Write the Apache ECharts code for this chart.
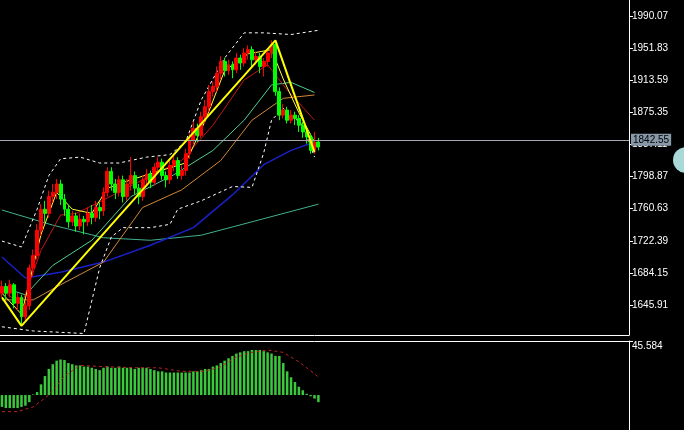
<!DOCTYPE html>
<html>
<head>
<meta charset="utf-8">
<script src="https://cdn.jsdelivr.net/npm/echarts@6/dist/echarts.min.js"></script>
<style>html,body{margin:0;background:#000;} #c{width:684px;height:430px;}</style>
</head>
<body>
<div id="c"></div>
<script>
// 价格面板：K 线 [open, close, low, high]
const candles = [
  [1660,1668,1655,1675],[1668,1660,1652,1672],[1660,1670,1655,1676],[1670,1648,1642,1672],
  [1648,1655,1640,1660],[1655,1632,1621,1658],[1632,1645,1628,1650],[1645,1690,1640,1694],
  [1690,1705,1680,1712],[1705,1735,1700,1742],[1735,1760,1728,1766],[1760,1755,1745,1770],
  [1755,1775,1750,1782],[1775,1780,1768,1790],[1780,1790,1772,1796],[1790,1772,1765,1795],
  [1772,1760,1752,1778],[1760,1745,1738,1765],[1745,1752,1740,1758],[1752,1740,1733,1756],
  [1740,1748,1735,1755],[1748,1745,1730,1752],[1745,1755,1740,1762],[1755,1750,1742,1765],
  [1750,1762,1745,1770],[1762,1758,1748,1768],[1758,1780,1752,1786],[1780,1805,1775,1810],
  [1805,1790,1782,1810],[1790,1780,1772,1796],[1780,1795,1775,1800],[1795,1775,1768,1800],
  [1775,1790,1770,1796],[1790,1800,1782,1822],[1800,1785,1778,1805],[1785,1775,1766,1790],
  [1775,1795,1770,1800],[1795,1802,1788,1808],[1802,1792,1785,1806],[1792,1810,1788,1815],
  [1810,1816,1802,1822],[1816,1800,1795,1820],[1800,1795,1786,1805],[1795,1812,1790,1818],
  [1812,1818,1805,1826],[1818,1800,1796,1822],[1800,1806,1795,1812],[1806,1826,1800,1832],
  [1826,1842,1820,1850],[1842,1856,1836,1864],[1856,1848,1840,1862],[1848,1870,1845,1876],
  [1870,1882,1862,1890],[1882,1900,1876,1908],[1900,1906,1894,1912],[1906,1922,1900,1930],
  [1922,1936,1915,1942],[1936,1925,1918,1940],[1925,1932,1920,1938],[1932,1926,1916,1936],
  [1926,1940,1922,1946],[1940,1934,1926,1944],[1934,1946,1930,1952],[1946,1950,1938,1955],
  [1950,1938,1930,1954],[1938,1942,1932,1948],[1942,1930,1922,1946],[1930,1936,1918,1940],
  [1936,1946,1930,1950],[1946,1956,1940,1961],[1956,1900,1895,1960],[1900,1872,1866,1905],
  [1872,1878,1868,1885],[1878,1866,1862,1882],[1866,1872,1862,1878],[1872,1868,1860,1876],
  [1868,1860,1852,1872],[1860,1852,1845,1864],[1852,1846,1838,1858],[1846,1830,1826,1850],
  [1830,1840,1826,1852],[1840,1834,1830,1845]
];
// 指标线关键点 [index, price]
const zigzag = [[0,1655],[5,1621],[70,1961],[80,1828]];
const maBlue = [[0,1703],[6,1678],[15,1685],[26,1697],[38,1717],[49,1738],[59,1777],[67,1813],[74,1830],[80,1840]];
const maTeal = [[0,1759],[13,1741],[26,1726],[38,1723],[51,1729],[64,1745],[81,1766]];
const maGreen = [[0,1667],[6,1658],[13,1693],[23,1723],[33,1775],[44,1801],[54,1830],[62,1866],[69,1908],[74,1911],[80,1899]];
const maOrange = [[0,1652],[8,1652],[15,1670],[26,1697],[36,1762],[46,1783],[56,1818],[64,1866],[72,1892],[80,1896]];
const maRed = [[0,1664],[5,1646],[10,1711],[15,1753],[19,1755],[26,1771],[36,1795],[46,1818],[54,1860],[62,1914],[68,1932],[73,1902],[80,1866]];
const maYellow = [[0,1660],[5,1635],[10,1730],[14,1780],[18,1760],[23,1755],[27,1785],[33,1795],[40,1805],[47,1815],[52,1865],[57,1925],[63,1945],[69,1950],[72,1915],[76,1875],[80,1840]];
const bbUpper = [[0,1722],[5,1715],[9,1760],[12,1800],[15,1820],[20,1822],[25,1815],[30,1815],[37,1822],[43,1825],[47,1840],[51,1890],[57,1940],[62,1970],[67,1970],[74,1968],[81,1973]];
const bbLower = [[0,1620],[8,1615],[21,1612],[25,1690],[28,1727],[31,1738],[38,1738],[43,1742],[45,1760],[51,1770],[59,1787],[64,1786],[67,1827],[69,1866],[72,1880],[77,1860],[80,1822]];
const priceTicks = [1645.91,1684.15,1722.39,1760.63,1798.87,1837.11,1875.35,1913.59,1951.83,1990.07];
const lastPrice = 1842.55;
// MACD 面板
const macdHist = [-10,-11,-11,-11,-11,-10,-9,-6,0.5,2.5,9,16,22,26,29,30,29.5,27,
  26,25,25,24,24,23,22,21,23,24,23,23,24,23,23,23,22,23,23,23,
  22,21,20,20,19,19,19,19,19,19,19,20,20,21,22,22,24,25,27,29,31,33,
  35,36,37,37,38,38,38,37,36,35,33,33,27,20,15,11,7,4,1,-1,-3,-6];
const macdSignal = [[0,-14],[4,-14],[8,-10],[12,0],[16,16],[20,25],[26,24],[34,23],[40,23],[46,20],[52,20],[56,24],[60,32],[64,36],[68,38],[72,36],[76,28],[80,18],[81,15]];
const macdTop = 45.584;

const SLOTS = 161;
const cats = Array.from({length: SLOTS}, (_, i) => i);
const fontFamily = 'Liberation Sans';

const line = (data, color, width, type) => ({
  type: 'line', data, showSymbol: false, silent: true,
  lineStyle: { color, width: width || 1, type: type || 'solid' },
  xAxisIndex: 0, yAxisIndex: 0, z: 3,
});

const chart = echarts.init(document.getElementById('c'));
chart.setOption({
  backgroundColor: '#000',
  animation: false,
  grid: [
    { left: 0, right: 55, top: 0, height: 335 },
    { left: 0, right: 55, top: 341, height: 89 },
  ],
  xAxis: [
    { type: 'category', gridIndex: 0, data: cats, boundaryGap: true,
      axisLine: { show: true, lineStyle: { color: '#fff' } }, axisTick: { show: false }, axisLabel: { show: false } },
    { type: 'category', gridIndex: 1, data: cats, position: 'top', boundaryGap: true,
      axisLine: { show: true, onZero: false, lineStyle: { color: '#fff' } }, axisTick: { show: false }, axisLabel: { show: false } },
  ],
  yAxis: [
    { type: 'value', gridIndex: 0, position: 'right', min: 1610.2, max: 2009.1,
      splitLine: { show: false },
      axisLine: { show: true, lineStyle: { color: '#fff' } },
      axisTick: { show: true, length: 4, lineStyle: { color: '#fff' }, customValues: priceTicks },
      axisLabel: { color: '#fff', fontSize: 10, fontFamily, margin: 3, customValues: priceTicks, formatter: v => v.toFixed(2) } },
    { type: 'value', gridIndex: 1, position: 'right', min: -29.5, max: macdTop,
      splitLine: { show: false },
      axisLine: { show: true, lineStyle: { color: '#fff' } },
      axisTick: { show: true, length: 4, lineStyle: { color: '#fff' }, customValues: [macdTop] },
      axisLabel: { color: '#fff', fontSize: 10, fontFamily, margin: 3, verticalAlign: 'top', customValues: [macdTop], formatter: v => v.toFixed(3) } },
  ],
  graphic: [
    { type: 'circle', shape: { cx: 686, cy: 160, r: 13 }, style: { fill: '#a8d8d8' } },
  ],
  series: [
    line(maTeal, '#40b090'),
    line(maBlue, '#1a20c8', 1.5),
    line(bbUpper, '#ffffff', 1, [3, 3]),
    line(bbLower, '#ffffff', 1, [3, 3]),
    line(maOrange, '#d08838'),
    line(maGreen, '#50d090'),
    line(maRed, '#c01818'),
    { type: 'candlestick', data: candles, barWidth: 3.4, z: 4,
      itemStyle: { color: '#ff0000', color0: '#00ff00', borderColor: '#ff0000', borderColor0: '#00ff00', borderWidth: 1 },
      markLine: { silent: true, symbol: 'none',
        lineStyle: { color: '#a8a8b0', width: 1, type: 'solid' },
        label: { position: 'end', formatter: lastPrice.toFixed(2), color: '#000', backgroundColor: '#8898a8',
          fontSize: 10, fontFamily, padding: [1, 2], distance: 2 },
        data: [{ yAxis: lastPrice }] } },
    line(maYellow, '#ffff40', 1),
    Object.assign(line(zigzag, '#ffff00', 2), { z: 5 }),
    { type: 'bar', xAxisIndex: 1, yAxisIndex: 1, data: macdHist, barWidth: 2.5,
      itemStyle: { color: '#3cc83c' }, silent: true },
    { type: 'line', xAxisIndex: 1, yAxisIndex: 1, data: macdSignal, showSymbol: false, silent: true,
      lineStyle: { color: '#c02020', width: 1, type: [3, 3] }, z: 4 },
  ],
});
</script>
</body>
</html>
